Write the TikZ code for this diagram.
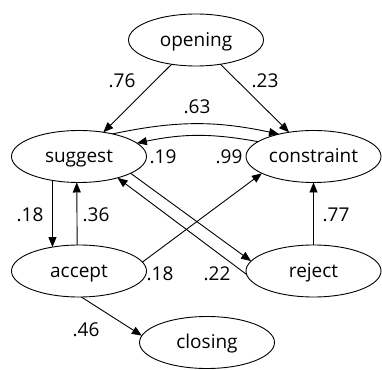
\documentclass[tikz,border=0pt]{standalone}
\usepackage{fontspec}
\setmainfont{Open Sans}
\usetikzlibrary{arrows.meta,shapes.geometric}
\tikzset{
  state/.style={ellipse, draw, line width=0.9pt, minimum width=135pt, minimum height=52pt,
    inner sep=0pt, outer sep=0pt, text height=12.5pt, text depth=0pt,
    font=\fontsize{19}{21}\selectfont},
  edge/.style={line width=0.9pt, -{Triangle[length=10pt,width=8pt]}},
  prob/.style={inner sep=0pt, font=\fontsize{19}{21}\selectfont}
}
\begin{document}
\begin{tikzpicture}[x=1pt,y=1pt]
\useasboundingbox (0,0) rectangle (382,369);
\node[state] (opening) at (196,329) {opening};
\node[state] (suggest) at (79,212.5) {suggest};
\node[state] (constraint) at (313.5,212.5) {constraint};
\node[state] (accept) at (79,98) {accept};
\node[state] (reject) at (313.5,98) {reject};
\node[state] (closing) at (207,26.5) {closing};

\draw[edge] (opening) -- (suggest);
\draw[edge] (opening) -- (constraint);
\draw[edge] (suggest.34) to[bend left=12] (constraint.147.5);
\draw[edge] (constraint.165.7) to[bend right=11] (suggest.13);
\draw[edge] (suggest.222) -- (accept.138);
\draw[edge] (accept.94.3) -- (suggest.265.7);
\draw[edge] (accept.8.4) -- (constraint.198.5);
\draw[edge] (suggest.342.7) -- (reject.171.7);
\draw[edge] (reject.183) -- (suggest.331);
\draw[edge] (reject) -- (constraint);
\draw[edge] (accept.275) -- (closing.174.5);

\node[prob] (p76) at (122,288) {.76};
\node[prob] (p23) at (265,288) {.23};
\node[prob] (p63) at (197,262.5) {.63};
\node[prob] (p19) at (163,212) {.19};
\node[prob] (p99) at (229,212) {.99};
\node[prob] (p18a) at (30,154) {.18};
\node[prob] (p36) at (96,154) {.36};
\node[prob] (p77) at (336,154) {.77};
\node[prob] (p18b) at (160,95.5) {.18};
\node[prob] (p22) at (217,95.5) {.22};
\node[prob] (p46) at (86,39) {.46};
\end{tikzpicture}
\end{document}
